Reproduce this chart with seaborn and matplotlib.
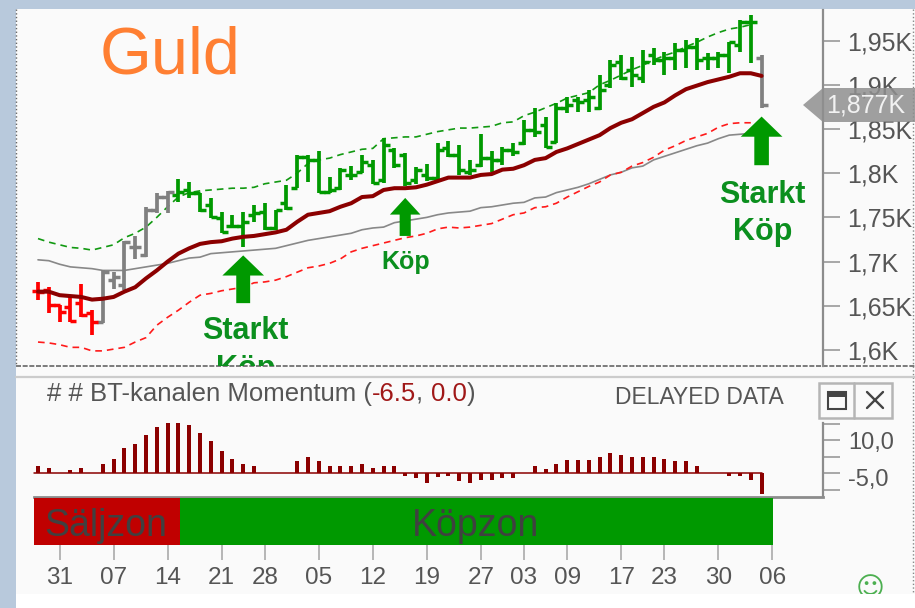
import numpy as np
import pandas as pd
import seaborn as sns
import matplotlib.pyplot as plt
from matplotlib.patches import Polygon, Rectangle

# price bars
bar_high = [1677, 1671, 1651, 1660, 1675, 1645, 1690, 1688, 1723, 1729,
            1762, 1778, 1780, 1793, 1790, 1778, 1772, 1756, 1753, 1756,
            1764, 1766, 1758, 1787, 1821, 1821, 1825, 1796, 1806, 1808,
            1821, 1815, 1840, 1828, 1823, 1807, 1810, 1834, 1836, 1832,
            1815, 1844, 1825, 1830, 1834, 1860, 1874, 1864, 1879, 1886,
            1886, 1894, 1911, 1928, 1934, 1931, 1939, 1942, 1937, 1947,
            1951, 1953, 1936, 1937, 1948, 1973, 1979, 1934]
bar_low = [1657, 1642, 1632, 1632, 1637, 1617, 1631, 1669, 1668, 1703,
           1705, 1755, 1755, 1767, 1772, 1756, 1749, 1732, 1738, 1716,
           1745, 1736, 1736, 1758, 1783, 1790, 1778, 1778, 1781, 1792,
           1800, 1788, 1789, 1806, 1785, 1788, 1791, 1792, 1818, 1798,
           1798, 1807, 1801, 1809, 1819, 1832, 1841, 1828, 1834, 1868,
           1869, 1869, 1871, 1896, 1905, 1897, 1902, 1922, 1911, 1917,
           1919, 1917, 1917, 1919, 1913, 1937, 1925, 1874]
bar_open = [1667, 1668, 1651, 1649, 1653, 1642, 1632, 1679, 1674, 1716,
            1707, 1758, 1773, 1775, 1781, 1778, 1764, 1749, 1740, 1740,
            1753, 1756, 1738, 1766, 1783, 1818, 1815, 1779, 1783, 1798,
            1801, 1809, 1792, 1826, 1821, 1792, 1798, 1795, 1828, 1821,
            1801, 1809, 1817, 1815, 1826, 1834, 1849, 1854, 1835, 1874,
            1883, 1883, 1874, 1900, 1926, 1917, 1908, 1934, 1928, 1930,
            1939, 1943, 1930, 1930, 1934, 1945, 1971, 1930]
bar_close = [1666, 1651, 1643, 1633, 1640, 1632, 1688, 1683, 1722, 1716,
             1758, 1773, 1779, 1779, 1778, 1758, 1750, 1733, 1740, 1745,
             1755, 1738, 1758, 1761, 1818, 1815, 1779, 1781, 1804, 1798,
             1813, 1789, 1832, 1809, 1789, 1804, 1795, 1826, 1821, 1804,
             1804, 1817, 1815, 1826, 1824, 1849, 1847, 1830, 1874, 1877,
             1880, 1886, 1894, 1922, 1908, 1911, 1926, 1928, 1930, 1939,
             1943, 1928, 1930, 1934, 1948, 1971, 1971, 1877]
bar_state = ['sell'] * 6 + ['neutral'] * 7 + ['buy'] * 54 + ['neutral']

# channel lines
ma_thick = [1666, 1666, 1662, 1661, 1660, 1657, 1658, 1660, 1666, 1671,
            1681, 1690, 1700, 1709, 1715, 1720, 1722, 1723, 1726, 1728,
            1729, 1731, 1733, 1736, 1745, 1753, 1755, 1757, 1762, 1766,
            1773, 1774, 1781, 1783, 1783, 1784, 1787, 1791, 1795, 1795,
            1795, 1798, 1799, 1804, 1805, 1809, 1815, 1817, 1824, 1828,
            1833, 1838, 1843, 1851, 1857, 1861, 1868, 1875, 1880, 1888,
            1895, 1899, 1903, 1906, 1909, 1913, 1913, 1910]
ma_thin = [1702, 1701, 1697, 1694, 1693, 1692, 1690, 1690, 1690, 1692,
           1694, 1696, 1698, 1701, 1704, 1705, 1709, 1710, 1711, 1712,
           1713, 1714, 1715, 1718, 1721, 1724, 1726, 1728, 1730, 1732,
           1736, 1738, 1739, 1744, 1746, 1748, 1750, 1753, 1755, 1756,
           1757, 1761, 1762, 1764, 1766, 1767, 1772, 1773, 1778, 1781,
           1784, 1788, 1793, 1798, 1801, 1806, 1808, 1815, 1819, 1823,
           1827, 1831, 1834, 1839, 1843, 1844, 1845]
band_upper = [1726, 1722, 1719, 1716, 1715, 1713, 1716, 1719, 1727, 1732,
              1739, 1750, 1762, 1773, 1778, 1780, 1781, 1782, 1783, 1783,
              1784, 1788, 1790, 1792, 1800, 1811, 1815, 1817, 1821, 1824,
              1827, 1828, 1839, 1840, 1841, 1841, 1844, 1847, 1849, 1851,
              1851, 1852, 1853, 1857, 1858, 1865, 1869, 1874, 1879, 1885,
              1888, 1891, 1900, 1905, 1911, 1917, 1922, 1928, 1933, 1937,
              1943, 1948, 1954, 1959, 1963, 1965, 1968]
band_lower = [1609, 1608, 1606, 1603, 1603, 1599, 1599, 1601, 1603, 1609,
              1614, 1628, 1637, 1645, 1654, 1662, 1664, 1667, 1669, 1671,
              1676, 1677, 1679, 1683, 1688, 1693, 1695, 1698, 1703, 1711,
              1715, 1718, 1721, 1724, 1727, 1729, 1732, 1737, 1739, 1738,
              1739, 1741, 1743, 1748, 1753, 1755, 1761, 1762, 1766, 1773,
              1779, 1785, 1790, 1798, 1801, 1808, 1812, 1818, 1826, 1831,
              1837, 1841, 1845, 1852, 1856, 1857, 1857]

momentum = [2.2, 1.5, 0, 0.8, 1.5, 0, 2.8, 4.2, 7.5, 8.9,
            11.6, 13.9, 15.2, 15.2, 14.6, 12.1, 9.8, 6.6, 4.2, 2.8,
            2.2, 0, 0, 0, 3.5, 4.8, 3.5, 2.2, 2.2, 2.2,
            2.8, 1.5, 2.2, 2.2, -1, -1.5, -3, -1.2, -0.8, -2.5,
            -3, -2, -2.2, -1.5, -1.5, 0, 2, 1.2, 2.8, 4,
            4, 4, 4.8, 6, 5.5, 4.8, 4.8, 4.8, 4.2, 3.5,
            3.5, 2.2, 0, 0, -0.8, -0.8, -2.2, -6.5]

price_ticks = [1600, 1650, 1700, 1750, 1800, 1850, 1900, 1950]
price_labels = ['1,6K', '1,65K', '1,7K', '1,75K', '1,8K', '1,85K', '1,9K', '1,95K']
date_ticks = [2, 7, 12, 17, 21, 26, 31, 36, 41, 45, 49, 54, 58, 63, 68]
date_labels = ['31', '07', '14', '21', '28', '05', '12', '19', '27', '03', '09', '17', '23', '30', '06']

zone_names = ['Säljzon', 'Köpzon']
zone_start = [-0.33, 13.15]
zone_end = [13.15, 68.05]

signal_x = [19, 34, 67]
signal_tip = [1707, 1772, 1864]
signal_base = [1653, 1729, 1809]

W, H = 915, 608
BLUE = '#b8c9dc'
PANEL = '#fafafa'
GREEN = '#009900'
DARKRED = '#8b0000'
TXT = '#555555'
AXC = '#8c8c8c'

sns.set_theme(style='white')
plt.rcParams['font.family'] = ['Liberation Sans', 'DejaVu Sans']


def box(x0, y0, x1, y1):
    # pixel box (from the top left) to a figure rect
    return [x0 / W, 1 - y1 / H, (x1 - x0) / W, (y1 - y0) / H]


fig = plt.figure(figsize=(W / 100, H / 100), dpi=100, facecolor=BLUE)

# panel background and frame lines
bg = fig.add_axes([0, 0, 1, 1], zorder=0)
bg.set_xlim(0, W)
bg.set_ylim(H, 0)
bg.axis('off')
bg.add_patch(Rectangle((16, 9), W - 16, 585, color=PANEL, lw=0))
bg.add_patch(Rectangle((16, 594), W - 16, 14, color='white', lw=0))
bg.plot([16, 16], [9, 366], color='#666666', lw=1, ls=':')
bg.plot([913, 913], [9, 594], color='#888888', lw=1, ls=':')
bg.plot([16, W], [366, 366], color='#666666', lw=1.2, ls=(0, (3, 1)))
bg.plot([16, W], [377, 377], color='#cccccc', lw=1.6)

x_left = (16 - 38) / 10.8
x_right = (823 - 38) / 10.8

# price panel
ax = fig.add_axes(box(16, 10, 823, 366), zorder=2)
ax.patch.set_alpha(0)
idx = np.arange(len(bar_high))
bars = pd.DataFrame({'i': idx, 'high': bar_high, 'low': bar_low, 'open': bar_open,
                     'close': bar_close, 'state': bar_state})
state_colors = {'sell': '#ff0000', 'neutral': '#808080', 'buy': GREEN}
for state, grp in bars.groupby('state'):
    c = state_colors[state]
    ax.vlines(grp['i'], grp['low'], grp['high'], color=c, lw=2.7, zorder=3)
    ax.hlines(grp['open'], grp['i'] - 0.55, grp['i'], color=c, lw=2.5, zorder=3)
    ax.hlines(grp['close'], grp['i'], grp['i'] + 0.55, color=c, lw=2.5, zorder=3)

sns.lineplot(x=idx[:len(ma_thin)], y=ma_thin, ax=ax, color='#888888', lw=1.2, zorder=2)
sns.lineplot(x=idx[:len(band_upper)], y=band_upper, ax=ax, color='#119911', lw=1.2,
             linestyle=(0, (4, 3)), zorder=2)
sns.lineplot(x=idx[:len(band_lower)], y=band_lower, ax=ax, color='#ff1a1a', lw=1.2,
             linestyle=(0, (4, 3)), zorder=2)
sns.lineplot(x=idx, y=ma_thick, ax=ax, color=DARKRED, lw=2.9, zorder=4)

ax.set_xlim(x_left, x_right)
ax.set_ylim(1600 - 16 * 1.131, 1600 + 340 * 1.131)
ax.set_xticks([])
ax.yaxis.tick_right()
ax.set_yticks(price_ticks)
ax.set_yticklabels(price_labels, fontsize=18, color=TXT)
ax.tick_params(axis='y', length=12, width=1.2, color='#999999', pad=5.5)
for s in ['top', 'left', 'bottom']:
    ax.spines[s].set_visible(False)
ax.spines['right'].set_color(AXC)
ax.spines['right'].set_linewidth(1.6)

# buy signals
head_w = [30, 22, 30]
head_l = [14.5, 12, 14.5]
shaft_w = [10, 8, 10.5]
for x, tip, base, hw, hl, sw in zip(signal_x, signal_tip, signal_base, head_w, head_l, shaft_w):
    ax.annotate('', xy=(x, tip), xytext=(x, base), zorder=5,
                arrowprops=dict(width=sw, headwidth=hw, headlength=hl, shrink=0,
                                facecolor=GREEN, edgecolor='none'))

label_kw = dict(color='#0b8f1e', fontweight='bold', ha='center', va='center')
ax.text(19.2, 1600 + 19 * 1.131, 'Starkt', fontsize=22, **label_kw)
ax.text(19.2, 1600 - 19 * 1.131, 'Köp', fontsize=22, clip_on=True, **label_kw)
ax.text(34, 1700, 'Köp', fontsize=18, **label_kw)
ax.text(67.1, 1775, 'Starkt', fontsize=22, **label_kw)
ax.text(67.1, 1733, 'Köp', fontsize=22, **label_kw)
ax.text(84 / 807, 0.823, 'Guld', transform=ax.transAxes, fontsize=48, color='#ff7f32',
        ha='left', va='baseline')

# momentum panel
ax2 = fig.add_axes(box(16, 423, 823, 497), zorder=2)
ax2.patch.set_alpha(0)
sns.barplot(x=idx, y=momentum, ax=ax2, native_scale=True, width=0.36, color=DARKRED,
            saturation=1, linewidth=0)
ax2.plot([-0.35, 67], [0, 0], color=DARKRED, lw=1.1)
ax2.set_xlim(x_left, x_right)
ax2.set_ylim(-24 / 3.3, 50 / 3.3)
ax2.set_xticks([])
ax2.set_xlabel('')
ax2.yaxis.tick_right()
ax2.set_yticks([15, 10, 5, 0, -5])
ax2.set_yticklabels(['', '10,0', '', '', ''], fontsize=17, color=TXT)
ax2.tick_params(axis='y', length=12, width=1.2, color='#999999', pad=6)
ax2.annotate('-5,0', xy=(1, -2.1), xycoords=('axes fraction', 'data'), xytext=(18, 0),
             textcoords='offset points', fontsize=17, color=TXT, va='center')
for s in ['top', 'left']:
    ax2.spines[s].set_visible(False)
ax2.spines['right'].set_color(AXC)
ax2.spines['right'].set_linewidth(1.6)
ax2.spines['bottom'].set_color(AXC)
ax2.spines['bottom'].set_linewidth(2)
ax2.spines['bottom'].set_bounds(-0.35, x_right)

# zones and dates
ax3 = fig.add_axes(box(16, 498, 823, 545), zorder=2)
ax3.patch.set_alpha(0)
zone_colors = ['#c00000', GREEN]
for name, a, b, c in zip(zone_names, zone_start, zone_end, zone_colors):
    ax3.barh(0, b - a, left=a, height=1, color=c, lw=0)
ax3.text(6.3, 0, zone_names[0], fontsize=27, color='#404040', ha='center', va='center_baseline')
ax3.text(40.55, 0, zone_names[1], fontsize=27, color='#404040', ha='center', va='center_baseline')
ax3.set_xlim(x_left, x_right)
ax3.set_ylim(-0.5, 0.5)
ax3.set_yticks([])
ax3.set_xticks(date_ticks)
ax3.set_xticklabels(date_labels, fontsize=17.5, color=TXT)
ax3.tick_params(axis='x', length=11, width=1.2, color='#aaaaaa', pad=5, bottom=True)
sns.despine(ax=ax3, left=True, bottom=True)

# overlay: last price flag, header texts, window buttons
top = fig.add_axes([0, 0, 1, 1], zorder=5)
top.set_xlim(0, W)
top.set_ylim(H, 0)
top.axis('off')
top.add_patch(Polygon([(803, 105), (823, 88), (915, 88), (915, 122), (823, 122)],
                      closed=True, color='#8f8f8f', alpha=0.85, lw=0))
top.text(866, 105, f'{bar_close[-1] / 1000:.3f}K'.replace('.', ','), fontsize=18, color='#f2f2f2',
         ha='center', va='center')

head_parts = [('# # BT-kanalen Momentum (', TXT), ('-6.5', '#a01818'), (', ', TXT),
              ('0.0', '#a01818'), (')', TXT)]
prev = top.text(47, 394, head_parts[0][0], fontsize=18.5, color=head_parts[0][1], va='center')
for part, c in head_parts[1:]:
    prev = top.annotate(part, xy=(1, 0.5), xycoords=prev, fontsize=18.5, color=c, va='center')
top.text(615, 397, 'DELAYED DATA', fontsize=16.5, color=TXT, va='center')

top.add_patch(Rectangle((819, 383), 73, 35, fill=False, ec='#b5b5b5', lw=1.8))
top.plot([854, 854], [383, 418], color='#b5b5b5', lw=1.8)
top.add_patch(Rectangle((828, 392), 18, 17, fill=False, ec='#444444', lw=1.5))
top.add_patch(Rectangle((828, 392), 18, 5, color='#444444', lw=0))
top.plot([867, 883], [392, 408], color='#444444', lw=1.7)
top.plot([867, 883], [408, 392], color='#444444', lw=1.7)

top.text(870, 589, '☺', fontsize=20, color='#4caf50', ha='center', va='center',
         family=['DejaVu Sans'])
top.add_patch(Rectangle((840, 594), 60, 14, color='white', lw=0, zorder=6))

fig.savefig('out.png', dpi=100, facecolor=BLUE)
